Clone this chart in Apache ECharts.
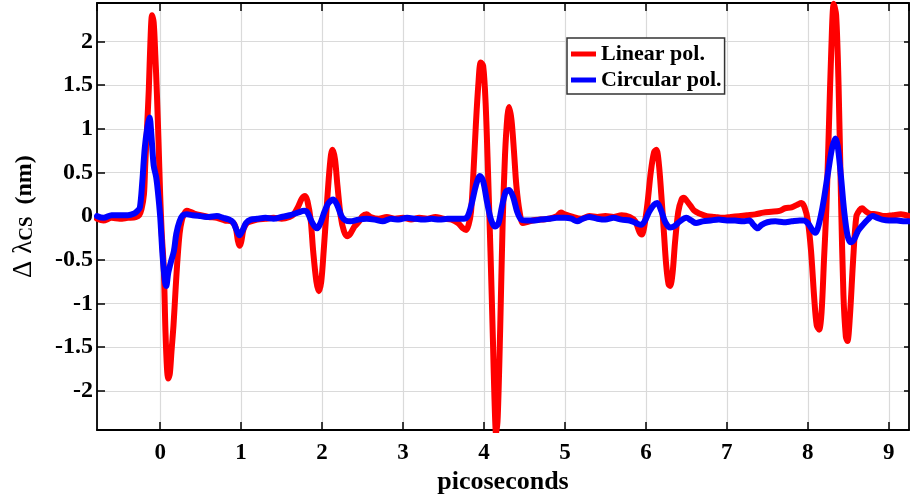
<!DOCTYPE html>
<html>
<head>
<meta charset="utf-8">
<script src="https://cdn.jsdelivr.net/npm/echarts@6/dist/echarts.min.js"></script>
<style>
  html, body { margin: 0; padding: 0; background: #fff; }
  #chart { width: 910px; height: 500px; }
</style>
</head>
<body>
<div id="chart"></div>
<script>
// Spectral shift of the CS line versus delay, linear vs circular pump polarisation
const linearT = [
  -0.78, -0.70, -0.60, -0.50, -0.40, -0.30, -0.26, -0.23, -0.20, -0.185, -0.16, -0.14, -0.12, -0.10, -0.08, -0.06,
  -0.04, -0.02, 0.00, 0.02, 0.045, 0.065, 0.085, 0.10, 0.12, 0.14, 0.165, 0.19, 0.21, 0.24, 0.27, 0.30,
  0.33, 0.37, 0.42, 0.50, 0.60, 0.70, 0.80, 0.88, 0.93, 0.96, 0.98, 1.00, 1.03, 1.07, 1.12, 1.20,
  1.30, 1.40, 1.50, 1.60, 1.65, 1.70, 1.75, 1.79, 1.82, 1.86, 1.89, 1.93, 1.96, 1.99, 2.02, 2.05,
  2.08, 2.11, 2.13, 2.16, 2.19, 2.23, 2.27, 2.31, 2.35, 2.40, 2.45, 2.50, 2.55, 2.60, 2.70, 2.80,
  2.90, 3.00, 3.10, 3.20, 3.30, 3.40, 3.50, 3.60, 3.68, 3.74, 3.78, 3.81, 3.84, 3.87, 3.90, 3.93,
  3.96, 3.99, 4.02, 4.05, 4.08, 4.11, 4.13, 4.15, 4.17, 4.20, 4.23, 4.26, 4.29, 4.31, 4.34, 4.37,
  4.40, 4.44, 4.48, 4.53, 4.60, 4.70, 4.80, 4.90, 4.95, 5.00, 5.10, 5.20, 5.30, 5.40, 5.50, 5.60,
  5.70, 5.80, 5.87, 5.92, 5.95, 5.98, 6.02, 6.06, 6.10, 6.13, 6.16, 6.19, 6.22, 6.25, 6.28, 6.30,
  6.33, 6.36, 6.40, 6.44, 6.47, 6.50, 6.55, 6.60, 6.66, 6.75, 6.85, 6.95, 7.05, 7.15, 7.25, 7.35,
  7.45, 7.55, 7.65, 7.72, 7.80, 7.87, 7.92, 7.96, 8.00, 8.04, 8.08, 8.11, 8.14, 8.17, 8.20, 8.23,
  8.26, 8.29, 8.32, 8.35, 8.38, 8.41, 8.44, 8.47, 8.49, 8.52, 8.56, 8.60, 8.64, 8.67, 8.71, 8.76,
  8.85, 8.95, 9.05, 9.15, 9.25
];
const linearV = [
  -0.03, -0.05, -0.02, -0.03, -0.02, -0.01, 0.01, 0.08, 0.25, 0.57, 1.05, 1.45, 2.00, 2.30, 2.22, 1.85,
  1.40, 0.85, 0.25, -0.20, -0.60, -1.30, -1.75, -1.86, -1.80, -1.55, -1.25, -0.85, -0.55, -0.20, -0.04, 0.03,
  0.06, 0.05, 0.03, 0.01, -0.01, -0.02, -0.05, -0.06, -0.12, -0.28, -0.34, -0.30, -0.15, -0.08, -0.06, -0.04,
  -0.03, -0.02, -0.03, -0.01, 0.02, 0.10, 0.20, 0.23, 0.17, -0.05, -0.40, -0.75, -0.86, -0.75, -0.40, 0.00,
  0.40, 0.70, 0.76, 0.65, 0.35, 0.00, -0.17, -0.23, -0.20, -0.12, -0.07, 0.00, 0.02, -0.01, -0.03, -0.01,
  -0.03, -0.02, -0.04, -0.02, -0.03, -0.01, -0.03, -0.04, -0.08, -0.14, -0.16, -0.10, 0.05, 0.50, 1.05, 1.50,
  1.76, 1.72, 1.30, 0.50, -0.40, -1.40, -2.10, -2.50, -2.30, -1.30, -0.10, 0.70, 1.15, 1.25, 1.10, 0.75,
  0.35, 0.05, -0.08, -0.07, -0.05, -0.04, -0.03, 0.00, 0.04, 0.02, -0.01, -0.03, 0.00, -0.01, 0.00, -0.01,
  0.01, -0.01, -0.06, -0.18, -0.21, -0.12, 0.15, 0.50, 0.73, 0.76, 0.60, 0.25, -0.15, -0.55, -0.78, -0.80,
  -0.65, -0.30, 0.05, 0.19, 0.21, 0.18, 0.12, 0.06, 0.03, 0.00, -0.01, -0.02, -0.01, 0.00, 0.01, 0.02,
  0.04, 0.05, 0.06, 0.09, 0.10, 0.13, 0.15, 0.10, -0.05, -0.40, -0.95, -1.25, -1.30, -1.10, -0.50, 0.10,
  1.00, 1.90, 2.43, 2.30, 1.50, 0.20, -0.90, -1.38, -1.43, -1.15, -0.50, 0.00, 0.07, 0.09, 0.06, 0.03,
  0.02, 0.00, 0.01, 0.02, 0.00
];

const circularT = [
  -0.78, -0.70, -0.60, -0.50, -0.40, -0.32, -0.28, -0.25, -0.22, -0.19, -0.16, -0.13, -0.11, -0.08, -0.05, -0.03,
  0.00, 0.03, 0.06, 0.075, 0.10, 0.14, 0.17, 0.20, 0.24, 0.28, 0.33, 0.40, 0.50, 0.60, 0.70, 0.78,
  0.85, 0.90, 0.94, 0.98, 1.02, 1.06, 1.12, 1.20, 1.30, 1.40, 1.50, 1.60, 1.70, 1.78, 1.82, 1.87,
  1.91, 1.94, 1.98, 2.03, 2.08, 2.14, 2.19, 2.24, 2.29, 2.35, 2.45, 2.55, 2.65, 2.75, 2.85, 2.95,
  3.05, 3.15, 3.25, 3.35, 3.45, 3.55, 3.65, 3.75, 3.80, 3.85, 3.90, 3.95, 3.99, 4.04, 4.09, 4.14,
  4.18, 4.22, 4.27, 4.31, 4.36, 4.41, 4.46, 4.52, 4.60, 4.70, 4.80, 4.90, 5.00, 5.08, 5.15, 5.22,
  5.30, 5.40, 5.50, 5.60, 5.70, 5.80, 5.88, 5.94, 5.99, 6.04, 6.10, 6.14, 6.19, 6.24, 6.30, 6.36,
  6.42, 6.50, 6.56, 6.62, 6.70, 6.80, 6.90, 7.00, 7.10, 7.20, 7.28, 7.33, 7.38, 7.43, 7.50, 7.60,
  7.70, 7.80, 7.90, 7.95, 8.00, 8.05, 8.09, 8.12, 8.16, 8.20, 8.25, 8.30, 8.34, 8.37, 8.41, 8.45,
  8.49, 8.53, 8.57, 8.62, 8.68, 8.74, 8.80, 8.86, 8.92, 9.00, 9.10, 9.20, 9.25
];
const circularV = [
  0.00, -0.02, 0.01, 0.01, 0.01, 0.03, 0.06, 0.10, 0.40, 0.78, 1.00, 1.13, 0.95, 0.58, 0.45, 0.30,
  0.00, -0.45, -0.75, -0.80, -0.65, -0.50, -0.40, -0.20, -0.06, 0.01, 0.02, 0.01, 0.00, -0.01, 0.00, -0.02,
  -0.04, -0.07, -0.15, -0.22, -0.16, -0.08, -0.04, -0.03, -0.02, -0.03, -0.01, 0.01, 0.04, 0.06, 0.04, -0.06,
  -0.12, -0.14, -0.08, 0.05, 0.15, 0.19, 0.12, 0.00, -0.05, -0.06, -0.04, -0.03, -0.04, -0.06, -0.03, -0.04,
  -0.02, -0.03, -0.04, -0.03, -0.04, -0.03, -0.03, -0.03, 0.00, 0.15, 0.35, 0.46, 0.40, 0.15, -0.05, -0.12,
  -0.08, 0.10, 0.28, 0.30, 0.22, 0.05, -0.04, -0.05, -0.05, -0.04, -0.03, -0.02, -0.02, -0.03, -0.06, -0.03,
  -0.01, -0.03, -0.04, -0.02, -0.04, -0.05, -0.08, -0.10, -0.05, 0.05, 0.13, 0.15, 0.06, -0.07, -0.13, -0.11,
  -0.06, -0.02, -0.05, -0.08, -0.06, -0.05, -0.04, -0.05, -0.05, -0.06, -0.05, -0.10, -0.14, -0.10, -0.07, -0.06,
  -0.07, -0.06, -0.05, -0.05, -0.08, -0.15, -0.19, -0.15, 0.00, 0.20, 0.50, 0.78, 0.89, 0.80, 0.45, 0.05,
  -0.22, -0.30, -0.27, -0.17, -0.10, -0.04, 0.00, -0.02, -0.04, -0.05, -0.05, -0.06, -0.06
];

const seriesNames = ['Linear pol.', 'Circular pol.'];
const seriesColors = ['#ff0000', '#0000ff'];

const xRange = [-0.78, 9.25];
const yRange = [-2.45, 2.44];

const zip = (ts, vs) => ts.map((t, i) => [t, vs[i]]);

const serif = '"Liberation Serif", "Times New Roman", serif';
const chart = echarts.init(document.getElementById('chart'), null, { renderer: 'canvas' });

const baseAxisLine = { show: true, onZero: false, lineStyle: { color: '#000', width: 1.8 } };

chart.setOption({
  animation: false,
  backgroundColor: '#ffffff',
  grid: { left: 97, right: 1, top: 3, bottom: 69, containLabel: false },
  legend: {
    orient: 'vertical',
    left: 567,
    top: 38,
    padding: [5, 3, 3, 4],
    itemGap: 4,
    itemWidth: 25,
    itemHeight: 5,
    icon: 'rect',
    borderColor: '#333',
    borderWidth: 1.5,
    backgroundColor: '#fff',
    data: seriesNames,
    textStyle: { fontFamily: serif, fontWeight: 'bold', fontSize: 22, color: '#000' }
  },
  xAxis: [
    {
      type: 'value', position: 'bottom', min: xRange[0], max: xRange[1],
      splitNumber: 10, minInterval: 1, maxInterval: 1,
      axisLine: baseAxisLine,
      axisTick: { show: true, inside: true, length: 8, lineStyle: { color: '#000', width: 1.5 } },
      axisLabel: {
        show: true, margin: 11, showMinLabel: false, showMaxLabel: false,
        fontFamily: serif, fontWeight: 'bold', fontSize: 23, color: '#000'
      },
      splitLine: { show: true, lineStyle: { color: '#dadada', width: 1.2 } },
      name: 'picoseconds', nameLocation: 'middle', nameGap: 37,
      nameTextStyle: { fontFamily: serif, fontWeight: 'bold', fontSize: 26, color: '#000' }
    },
    {
      type: 'value', position: 'top', min: xRange[0], max: xRange[1],
      splitNumber: 10, minInterval: 1, maxInterval: 1,
      axisLine: baseAxisLine,
      axisTick: { show: true, inside: true, length: 8, lineStyle: { color: '#000', width: 1.5 } },
      axisLabel: { show: false },
      splitLine: { show: false }
    }
  ],
  yAxis: [
    {
      type: 'value', position: 'left', min: yRange[0], max: yRange[1],
      splitNumber: 10, minInterval: 0.5, maxInterval: 0.5,
      axisLine: baseAxisLine,
      axisTick: { show: true, inside: true, length: 8, lineStyle: { color: '#000', width: 1.5 } },
      axisLabel: {
        show: true, margin: 4, showMinLabel: false, showMaxLabel: false,
        fontFamily: serif, fontWeight: 'bold', fontSize: 24, color: '#000'
      },
      splitLine: { show: true, lineStyle: { color: '#dadada', width: 1.2 } },
      name: '{g|Δ λ}{s|CS}{n|  (nm)}',
      nameLocation: 'middle', nameGap: 60,
      nameTextStyle: {
        color: '#000',
        rich: {
          g: { fontFamily: serif, fontWeight: 'normal', fontSize: 27, color: '#000', verticalAlign: 'bottom' },
          s: { fontFamily: serif, fontWeight: 'bold', fontSize: 19, color: '#000', verticalAlign: 'bottom', lineHeight: 12 },
          n: { fontFamily: serif, fontWeight: 'bold', fontSize: 24, color: '#000', verticalAlign: 'bottom' }
        }
      }
    },
    {
      type: 'value', position: 'right', min: yRange[0], max: yRange[1],
      splitNumber: 10, minInterval: 0.5, maxInterval: 0.5,
      axisLine: baseAxisLine,
      axisTick: { show: true, inside: true, length: 5, lineStyle: { color: '#000', width: 1.5 } },
      axisLabel: { show: false },
      splitLine: { show: false }
    }
  ],
  series: [
    {
      name: seriesNames[0], type: 'line', xAxisIndex: 0, yAxisIndex: 0,
      data: zip(linearT, linearV), showSymbol: false, symbol: 'none', smooth: 0.3, clip: true,
      lineStyle: { color: seriesColors[0], width: 6, cap: 'round', join: 'round' },
      itemStyle: { color: seriesColors[0] }, z: 2
    },
    {
      name: seriesNames[1], type: 'line', xAxisIndex: 0, yAxisIndex: 0,
      data: zip(circularT, circularV), showSymbol: false, symbol: 'none', smooth: 0.3, clip: true,
      lineStyle: { color: seriesColors[1], width: 6, cap: 'round', join: 'round' },
      itemStyle: { color: seriesColors[1] }, z: 3
    }
  ]
});
</script>
</body>
</html>
